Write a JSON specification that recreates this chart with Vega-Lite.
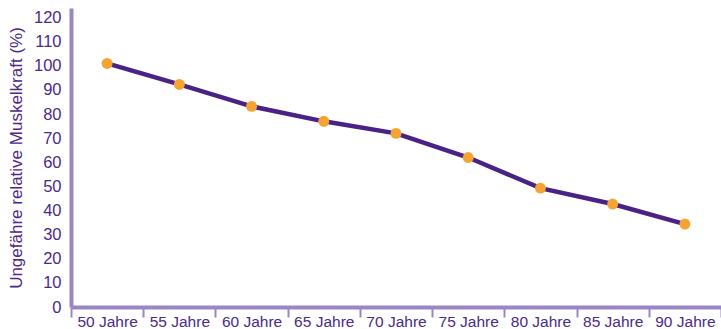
{
  "$schema": "https://vega.github.io/schema/vega-lite/v6.json",
  "autosize": "none",
  "width": 650,
  "height": 299,
  "padding": {"left": 71, "top": 8, "right": 0, "bottom": 22},
  "config": {
    "view": {"stroke": null},
    "font": "Liberation Sans"
  },
  "data": {
    "values": [
      {"alter": "50 Jahre", "kraft": 101},
      {"alter": "55 Jahre", "kraft": 92.3},
      {"alter": "60 Jahre", "kraft": 83.2},
      {"alter": "65 Jahre", "kraft": 77},
      {"alter": "70 Jahre", "kraft": 72},
      {"alter": "75 Jahre", "kraft": 62},
      {"alter": "80 Jahre", "kraft": 49.3},
      {"alter": "85 Jahre", "kraft": 42.7},
      {"alter": "90 Jahre", "kraft": 34.4}
    ]
  },
  "encoding": {
    "x": {
      "field": "alter",
      "type": "ordinal",
      "sort": null,
      "scale": {"type": "band", "paddingInner": 0, "paddingOuter": 0},
      "axis": {
        "title": null,
        "labelAngle": 0,
        "labelFontSize": 15.5,
        "labelColor": "#4b2a87",
        "labelPadding": -3,
        "domainColor": "#9a86c3",
        "domainWidth": 4,
        "tickBand": "extent",
        "tickColor": "#9a86c3",
        "tickWidth": 2,
        "tickSize": 10
      }
    },
    "y": {
      "field": "kraft",
      "type": "quantitative",
      "scale": {"domain": [0, 124], "nice": false},
      "axis": {
        "title": "Ungefähre relative Muskelkraft (%)",
        "titleFontSize": 17,
        "titleFontWeight": "normal",
        "titleColor": "#4b2a87",
        "titlePadding": 8,
        "values": [0, 10, 20, 30, 40, 50, 60, 70, 80, 90, 100, 110, 120],
        "labelFontSize": 16.5,
        "labelColor": "#4b2a87",
        "labelPadding": 10,
        "ticks": false,
        "grid": false,
        "domainColor": "#9a86c3",
        "domainWidth": 4
      }
    }
  },
  "layer": [
    {
      "mark": {"type": "line", "color": "#4a2185", "strokeWidth": 4.5}
    },
    {
      "mark": {"type": "point", "filled": true, "color": "#f6a431", "size": 120, "opacity": 1}
    }
  ]
}
